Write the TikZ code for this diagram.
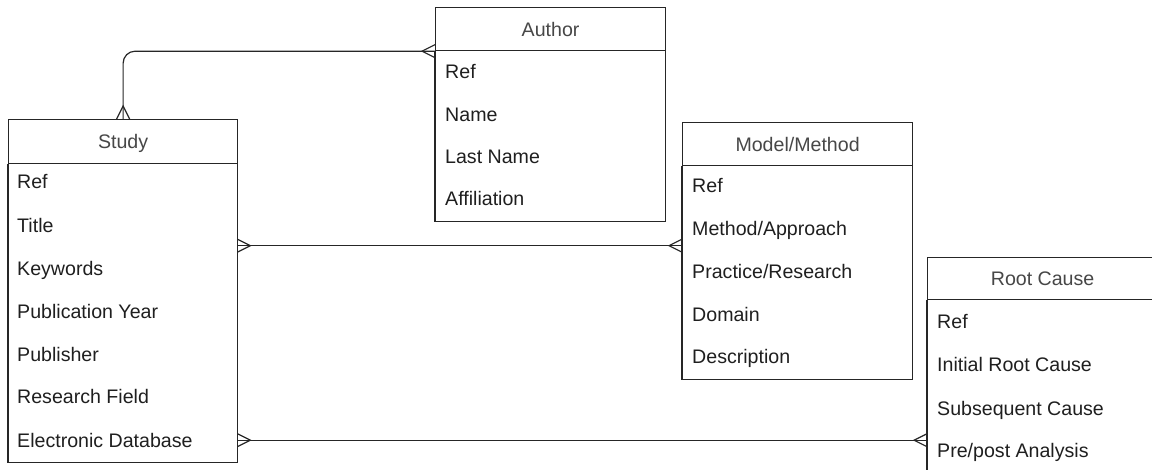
\documentclass[tikz,border=0pt]{standalone}
\usepackage{fontspec}
\setmainfont{Liberation Sans}
\begin{document}
\begin{tikzpicture}[x=1pt,y=-1pt,
  ln/.style={draw=black!85, line width=1.2pt},
  conn/.style={draw=black!85, line width=1.2pt},
  txt/.style={font=\fontsize{19.6}{23}\selectfont, text height=14.5pt, text depth=0.5pt},
  hdr/.style={ln, fill=white, anchor=north west, inner sep=0pt, txt, text=black!72},
  bodybox/.style={draw=none, anchor=north west, inner sep=0pt},
  fld/.style={anchor=west, inner sep=0pt, txt, text=black!88},
  crowfoot/.pic={\draw[conn] (0,-6.5) -- (13,0) -- (0,6.5);}
]
\useasboundingbox (0,0) rectangle (1152,470);
\clip (0,0) rectangle (1152,470);

% Author entity
\node[hdr, minimum width=230pt, minimum height=43pt] (author) at (435,7) {Author};
\node[bodybox, minimum width=230pt, minimum height=170pt] (authorB) at (author.south west) {};
\draw[ln] (authorB.north west) -- (authorB.south west) -- (authorB.south east) -- (authorB.north east);
\node[fld] (au1) at (445,72)  {Ref};
\node[fld] (au2) at (445,115) {Name};
\node[fld] (au3) at (445,157) {Last Name};
\node[fld] (au4) at (445,199) {Affiliation};

% Study entity
\node[hdr, minimum width=229pt, minimum height=44pt] (study) at (8,119) {Study};
\node[bodybox, minimum width=229pt, minimum height=298pt] (studyB) at (study.south west) {};
\draw[ln] (studyB.north west) -- (studyB.south west) -- (studyB.south east) -- (studyB.north east);
\node[fld] (st1) at (17,182) {Ref};
\node[fld] (st2) at (17,226) {Title};
\node[fld] (st3) at (17,269) {Keywords};
\node[fld] (st4) at (17,312) {Publication Year};
\node[fld] (st5) at (17,355) {Publisher};
\node[fld] (st6) at (17,397) {Research Field};
\node[fld] (st7) at (17,440) {Electronic Database};

% Model/Method entity
\node[hdr, minimum width=230pt, minimum height=43pt] (model) at (682,122) {Model/Method};
\node[bodybox, minimum width=230pt, minimum height=213pt] (modelB) at (model.south west) {};
\draw[ln] (modelB.north west) -- (modelB.south west) -- (modelB.south east) -- (modelB.north east);
\node[fld] (mm1) at (692,186) {Ref};
\node[fld] (mm2) at (692,229) {Method/Approach};
\node[fld] (mm3) at (692,272) {Practice/Research};
\node[fld] (mm4) at (692,315) {Domain};
\node[fld] (mm5) at (692,357) {Description};

% Root Cause entity (runs past the right and bottom edges)
\node[hdr, minimum width=230pt, minimum height=42pt] (root) at (927,257) {Root Cause};
\node[bodybox, minimum width=230pt, minimum height=173pt] (rootB) at (root.south west) {};
\draw[ln] (rootB.north west) -- (rootB.south west) -- (rootB.south east) -- (rootB.north east);
\node[fld] (rc1) at (937,322) {Ref};
\node[fld] (rc2) at (937,365) {Initial Root Cause};
\node[fld] (rc3) at (937,408) {Subsequent Cause};
\node[fld] (rc4) at (937,450) {Pre/post Analysis};

% Relationships (many-to-many)
\draw[conn, rounded corners=12pt] (study.north) |- (author.south west);
\pic[rotate=90] at (study.north) {crowfoot};
\pic[rotate=180] at (author.south west) {crowfoot};

\coordinate (mIn) at ([yshift=-79.5pt]modelB.north west);
\draw[conn] (mIn -| studyB.east) -- (mIn);
\pic at (mIn -| studyB.east) {crowfoot};
\pic[rotate=180] at (mIn) {crowfoot};

\coordinate (rIn) at ([yshift=-140pt]rootB.north west);
\draw[conn] (rIn -| studyB.east) -- (rIn);
\pic at (rIn -| studyB.east) {crowfoot};
\pic[rotate=180] at (rIn) {crowfoot};
\end{tikzpicture}
\end{document}
